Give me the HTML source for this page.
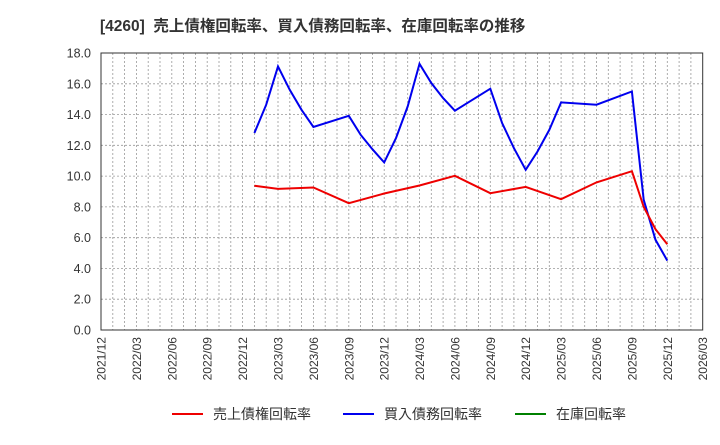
<!DOCTYPE html>
<html><head><meta charset="utf-8"><style>
body{margin:0;background:#fff;width:720px;height:440px;overflow:hidden}
text{font-family:"Liberation Sans","Noto Sans CJK JP",sans-serif}
</style></head><body>
<svg id="s" width="720" height="440" xmlns="http://www.w3.org/2000/svg"></svg>
<script>
const s=document.getElementById('s');
const L=101,R=702.7,T=53,B=330,mp=(R-L)/51,vy=v=>B-(B-T)*v/18,mx=m=>L+m*mp;
let h='';
h+='<text x="100" y="31" font-size="15.5" font-weight="bold" fill="#333" xml:space="preserve">[4260]  売上債権回転率、買入債務回転率、在庫回転率の推移</text>';
for(let m=1;m<51;m++){const x=mx(m).toFixed(1);h+=`<line x1="${x}" y1="${T}" x2="${x}" y2="${B}" stroke="#999" stroke-width="0.8" stroke-dasharray="2,2"/>`;}
for(let v=0;v<=18;v+=2){const y=vy(v).toFixed(1);if(v>0&&v<18)h+=`<line x1="${L}" y1="${y}" x2="${R}" y2="${y}" stroke="#999" stroke-width="0.8" stroke-dasharray="2,2"/>`;h+=`<text x="91" y="${(+y+4.5).toFixed(1)}" font-size="12.5" text-anchor="end" fill="#333">${v.toFixed(1)}</text>`;}
h+=`<rect x="${L}" y="${T}" width="${R-L}" height="${B-T}" fill="none" stroke="#333" stroke-width="1"/>`;
const labs=['2021/12','2022/03','2022/06','2022/09','2022/12','2023/03','2023/06','2023/09','2023/12','2024/03','2024/06','2024/09','2024/12','2025/03','2025/06','2025/09','2025/12','2026/03'];
labs.forEach((t,i)=>{const x=mx(i*3)+4.5;h+=`<text transform="translate(${x.toFixed(1)},337) rotate(-90)" font-size="12" text-anchor="end" fill="#333">${t}</text>`;});
const red=[[13,9.37],[15,9.17],[18,9.26],[21,8.24],[24,8.87],[27,9.39],[30,10.02],[33,8.89],[36,9.30],[39,8.50],[42,9.59],[45,10.32],[46,8.0],[47,6.55],[48,5.57]];
const blue=[[13,12.8],[14,14.64],[15,17.13],[16,15.6],[17,14.3],[18,13.19],[21,13.92],[22,12.69],[23,11.75],[24,10.89],[25,12.47],[26,14.53],[27,17.3],[28,16.05],[29,15.07],[30,14.25],[33,15.68],[34,13.45],[35,11.82],[36,10.41],[37,11.6],[38,13.0],[39,14.79],[42,14.64],[45,15.5],[46,8.46],[47,5.86],[48,4.51]];
const pl=(d,c)=>`<polyline fill="none" stroke="${c}" stroke-width="2" points="${d.map(p=>mx(p[0]).toFixed(1)+','+vy(p[1]).toFixed(1)).join(' ')}"/>`;
h+=pl(blue,'#0000ee')+pl(red,'#ee0000');
[[172,'#ee0000','売上債権回転率'],[343,'#0000ee','買入債務回転率'],[515,'#008000','在庫回転率']].forEach(([x,c,t])=>{h+=`<line x1="${x}" y1="414" x2="${x+31}" y2="414" stroke="${c}" stroke-width="2"/><text x="${x+41}" y="419" font-size="14" fill="#333">${t}</text>`;});
s.innerHTML=h;
</script>
</body></html>
